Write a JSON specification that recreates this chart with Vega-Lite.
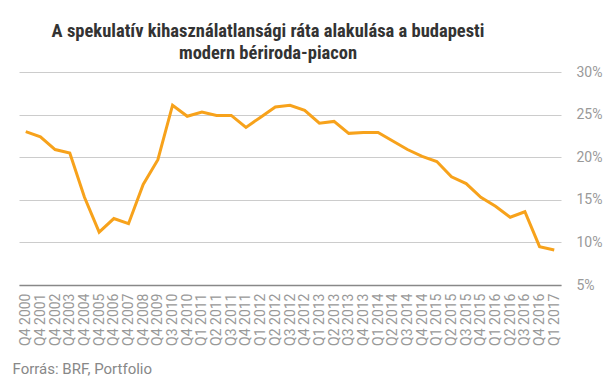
{
  "$schema": "https://vega.github.io/schema/vega-lite/v6.json",
  "width": 542,
  "height": 213,
  "autosize": {"type": "none"},
  "padding": {"left": 19, "top": 72, "right": 46, "bottom": 95},
  "background": "white",
  "title": {
    "text": ["A spekulatív kihasználatlansági ráta alakulása a budapesti", "modern bériroda-piacon"],
    "anchor": "middle",
    "frame": "group",
    "dx": -22,
    "offset": 3,
    "font": "Roboto Condensed, Liberation Sans Narrow, DejaVu Sans Condensed, Roboto",
    "fontSize": 18.5,
    "fontWeight": "bold",
    "color": "#333333",
    "lineHeight": 22
  },
  "data": {
    "values": [
      {"q": "Q4 2000", "v": 23.0},
      {"q": "Q4 2001", "v": 22.4},
      {"q": "Q4 2002", "v": 20.9},
      {"q": "Q4 2003", "v": 20.5},
      {"q": "Q4 2004", "v": 15.3},
      {"q": "Q4 2005", "v": 11.2},
      {"q": "Q4 2006", "v": 12.8},
      {"q": "Q4 2007", "v": 12.2},
      {"q": "Q4 2008", "v": 16.8},
      {"q": "Q4 2009", "v": 19.7},
      {"q": "Q3 2010", "v": 26.1},
      {"q": "Q4 2010", "v": 24.8},
      {"q": "Q1 2011", "v": 25.3},
      {"q": "Q2 2011", "v": 24.9},
      {"q": "Q3 2011", "v": 24.9},
      {"q": "Q4 2011", "v": 23.5},
      {"q": "Q1 2012", "v": 24.7},
      {"q": "Q2 2012", "v": 25.9},
      {"q": "Q3 2012", "v": 26.1},
      {"q": "Q4 2012", "v": 25.5},
      {"q": "Q1 2013", "v": 24.0},
      {"q": "Q2 2013", "v": 24.2},
      {"q": "Q3 2013", "v": 22.8},
      {"q": "Q4 2013", "v": 22.9},
      {"q": "Q1 2014", "v": 22.9},
      {"q": "Q2 2014", "v": 21.9},
      {"q": "Q3 2014", "v": 20.9},
      {"q": "Q4 2014", "v": 20.1},
      {"q": "Q1 2015", "v": 19.5},
      {"q": "Q2 2015", "v": 17.7},
      {"q": "Q3 2015", "v": 16.9},
      {"q": "Q4 2015", "v": 15.3},
      {"q": "Q1 2016", "v": 14.25},
      {"q": "Q2 2016", "v": 12.95},
      {"q": "Q3 2016", "v": 13.6},
      {"q": "Q4 2016", "v": 9.5},
      {"q": "Q1 2017", "v": 9.1}
    ]
  },
  "mark": {"type": "line", "color": "#F7A21B", "strokeWidth": 3, "strokeJoin": "miter"},
  "encoding": {
    "x": {
      "field": "q",
      "type": "ordinal",
      "sort": null,
      "scale": {"type": "point", "padding": 0.46},
      "axis": {
        "title": "Forrás: BRF, Portfolio",
        "titleFont": "Roboto",
        "titleFontSize": 15,
        "titleFontWeight": "normal",
        "titleColor": "#888888",
        "titleAnchor": "start",
        "titleAlign": "left",
        "titleBaseline": "alphabetic",
        "titleX": -7,
        "titleY": 88,
        "labelAngle": -90,
        "labelFont": "Roboto",
        "labelFontSize": 14,
        "labelColor": "#999999",
        "labelPadding": 8,
        "ticks": false,
        "domainColor": "#888888",
        "domainWidth": 1.5,
        "grid": false
      }
    },
    "y": {
      "field": "v",
      "type": "quantitative",
      "scale": {"domain": [5, 30], "nice": false, "zero": false},
      "axis": {
        "orient": "right",
        "title": null,
        "values": [5, 10, 15, 20, 25, 30],
        "labelExpr": "datum.value + '%'",
        "labelFont": "Roboto",
        "labelFontSize": 14,
        "labelColor": "#999999",
        "labelPadding": 15,
        "ticks": false,
        "domain": false,
        "grid": true,
        "gridColor": "#cccccc",
        "gridWidth": 1
      }
    }
  },
  "config": {"view": {"stroke": null}}
}
